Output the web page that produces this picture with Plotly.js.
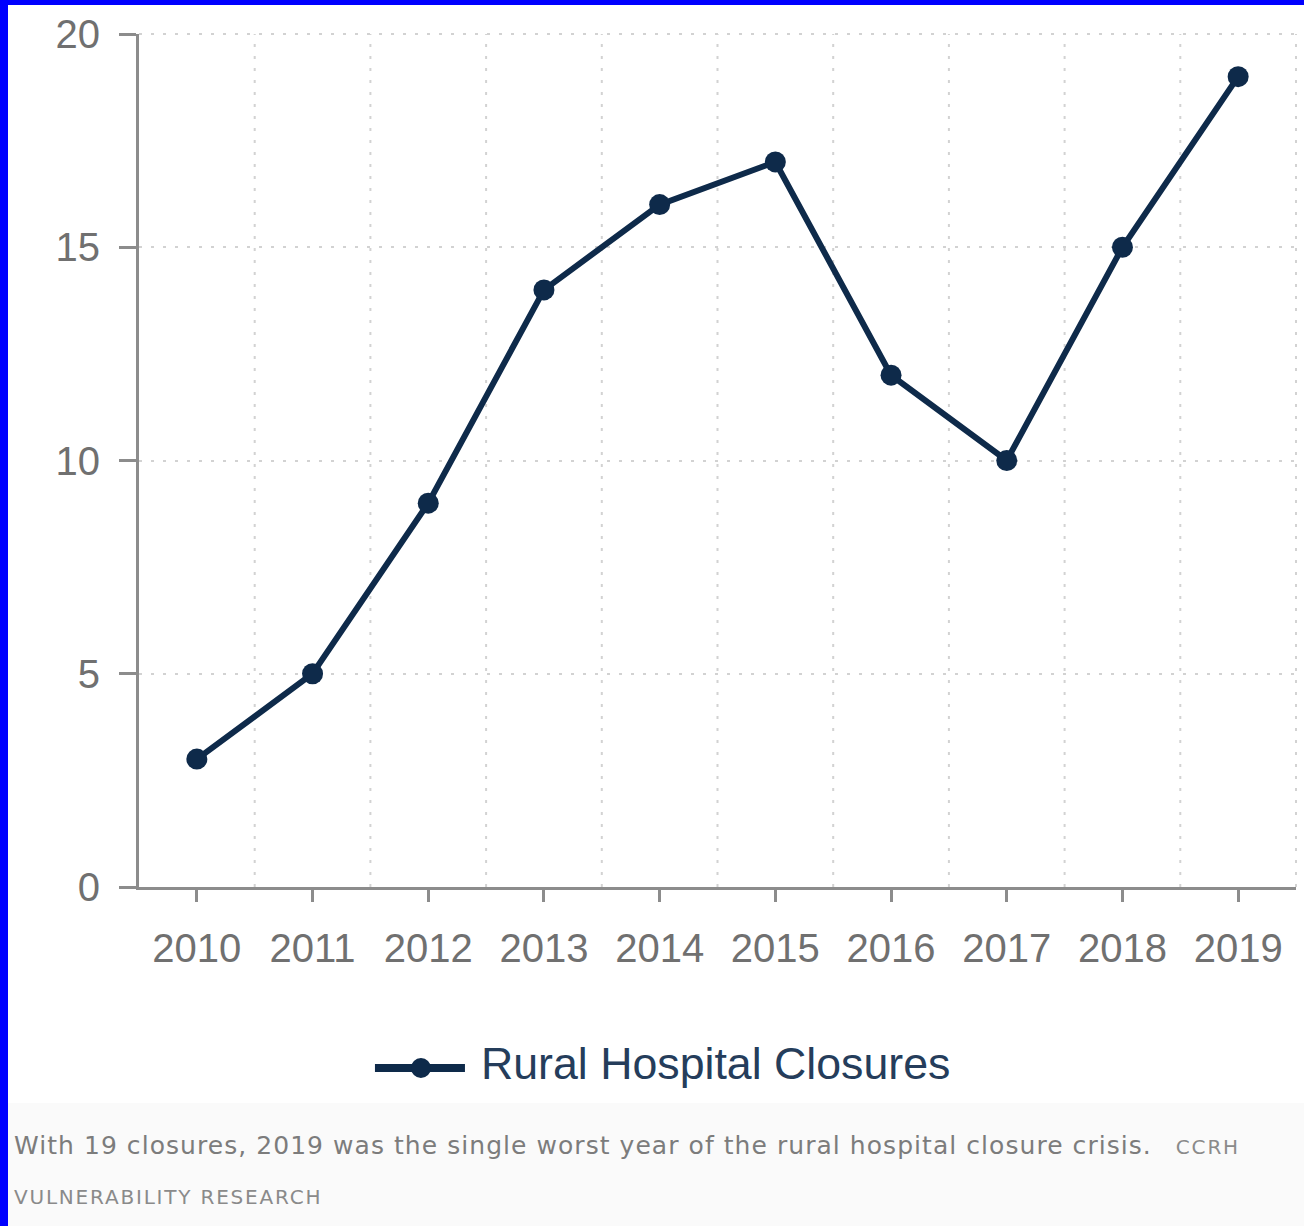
<!DOCTYPE html>
<html>
<head>
<meta charset="utf-8">
<script src="https://cdn.plot.ly/plotly-3.0.1.min.js"></script>
<style>
  html, body { margin: 0; padding: 0; background: #0000ff; width: 1304px; height: 1226px; overflow: hidden; }
  #frame { position: absolute; left: 8px; top: 5px; width: 1296px; height: 1221px; background: #ffffff; }
  #chart { position: absolute; left: 0; top: 0; width: 1296px; height: 1098px; }
  #caption { position: absolute; left: 0; top: 1098px; width: 1296px; height: 123px; background: #fafafa;
             box-sizing: border-box; padding: 19px 0 0 6px; font-family: "DejaVu Sans", sans-serif; line-height: 48px; white-space: nowrap; }
  #caption .main { font-size: 25px; color: #7c7c7c; letter-spacing: 1.05px; }
  #caption .credit { font-size: 20px; color: #8a8a8a; letter-spacing: 1.8px; }
  #caption .gap { display: inline-block; width: 24px; }
</style>
</head>
<body>
<div id="frame">
  <div id="chart"></div>
  <div id="caption"><span class="main">With 19 closures, 2019 was the single worst year of the rural hospital closure crisis.</span><span class="gap"></span><span class="credit">CCRH<br>VULNERABILITY RESEARCH</span></div>
</div>
<script>
const years = ["2010", "2011", "2012", "2013", "2014", "2015", "2016", "2017", "2018", "2019"];
const closures = [3, 5, 9, 14, 16, 17, 12, 10, 15, 19];
const seriesName = "Rural Hospital Closures";
const yTicks = [0, 5, 10, 15, 20];

const navy = "#0e2a4a";
const axisGray = "#8c8c8c";
const gridGray = "#d2d2d2";
const labelGray = "#707070";
const gridDash = "3px,9px";

// category boundaries for the vertical grid (between categories)
const boundaries = years.map((_, i) => i + 0.5);

const trace = {
  type: "scatter",
  mode: "lines+markers",
  x: years,
  y: closures,
  name: seriesName,
  showlegend: false,
  line: { color: navy, width: 6 },
  marker: { color: navy, size: 21 }
};

const shapes = [];
boundaries.forEach((b, i) => {
  const last = i === boundaries.length - 1;
  shapes.push({
    type: "line", layer: "below",
    xref: last ? "paper" : "x", x0: last ? 1 : b, x1: last ? 1 : b,
    yref: "paper", y0: 0, y1: 1,
    line: { color: gridGray, width: 2, dash: gridDash }
  });
});
// top gridline at the y max
shapes.push({
  type: "line", layer: "below",
  xref: "paper", x0: 0, x1: 1,
  yref: "paper", y0: 1, y1: 1,
  line: { color: gridGray, width: 2, dash: gridDash }
});
// custom legend: long line with centred marker
const legX = 0.2437, legY = -0.2122;
shapes.push({
  type: "line", layer: "above",
  xref: "paper", yref: "paper", xsizemode: "pixel", ysizemode: "pixel",
  xanchor: legX, yanchor: legY,
  x0: -46, x1: 44, y0: 0, y1: 0,
  line: { color: navy, width: 8 }
});
shapes.push({
  type: "circle", layer: "above",
  xref: "paper", yref: "paper", xsizemode: "pixel", ysizemode: "pixel",
  xanchor: legX, yanchor: legY,
  x0: -10, x1: 10, y0: -10, y1: 10,
  fillcolor: navy, line: { color: navy, width: 0 }
});

const layout = {
  width: 1296,
  height: 1098,
  margin: { l: 131, r: 8, t: 29, b: 216 },
  paper_bgcolor: "#ffffff",
  plot_bgcolor: "#ffffff",
  font: { family: "Liberation Sans, Arial, sans-serif", color: labelGray },
  showlegend: false,
  shapes: shapes,
  annotations: [{
    xref: "paper", yref: "paper",
    x: 0.2937, y: -0.2075, xanchor: "left", yanchor: "middle",
    text: seriesName, showarrow: false,
    font: { size: 44.7, color: "#253d5b", family: "Liberation Sans, Arial, sans-serif" }
  }],
  xaxis: {
    type: "category",
    range: [-0.5, years.length - 0.5],
    showgrid: false,
    zeroline: false,
    showline: true,
    linecolor: axisGray,
    linewidth: 3,
    ticks: "outside",
    ticklen: 12,
    tickwidth: 3,
    tickcolor: axisGray,
    tickfont: { size: 40, color: labelGray },
    ticklabelstandoff: 12,
    fixedrange: true
  },
  yaxis: {
    range: [0, 20],
    tickmode: "array",
    tickvals: yTicks,
    showgrid: true,
    gridcolor: gridGray,
    gridwidth: 2,
    griddash: gridDash,
    zeroline: false,
    showline: true,
    linecolor: axisGray,
    linewidth: 3,
    ticks: "outside",
    ticklen: 17,
    tickwidth: 3,
    tickcolor: axisGray,
    tickfont: { size: 40, color: labelGray },
    ticklabelstandoff: 11,
    fixedrange: true
  }
};

Plotly.newPlot("chart", [trace], layout, { staticPlot: true, displayModeBar: false });
</script>
</body>
</html>
